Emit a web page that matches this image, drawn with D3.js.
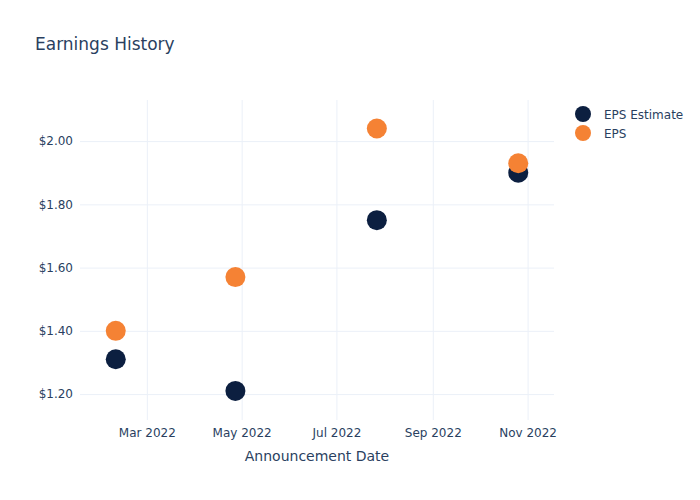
<!DOCTYPE html>
<html><head><meta charset="utf-8">
<script src="https://cdn.jsdelivr.net/npm/d3@7"></script>
<style>body{margin:0;background:#fff}text{font-family:"DejaVu Sans",sans-serif}</style>
</head><body>
<svg id="c" width="700" height="500"></svg>
<script>
const dates = ["2022-02-09","2022-04-27","2022-07-27","2022-10-26"];
const epsEstimate = [1.31, 1.21, 1.75, 1.90];
const eps = [1.40, 1.57, 2.04, 1.93];
const yTicks = [1.2, 1.4, 1.6, 1.8, 2.0];
const xTicks = ["2022-03-01","2022-05-01","2022-07-01","2022-09-01","2022-11-01"];
const seriesNames = ["EPS Estimate", "EPS"];
const colors = ["#0c1f40", "#f58234"];

const parse = d3.utcParse("%Y-%m-%d");
const svg = d3.select("#c");
const L = 80, R = 554, T = 100, B = 420;
const x = d3.scaleUtc().domain([parse("2022-01-17"), parse("2022-11-18")]).range([L, R]);
const y = d3.scaleLinear().domain([1.118, 2.13]).range([B, T]);
const txt = "#2a3f5f", grid = "#ebf0f8";
const ff = '"DejaVu Sans",sans-serif';

svg.append("text").attr("x", 35).attr("y", 50).attr("font-size", 17).attr("fill", txt).text("Earnings History");

const xa = svg.append("g").attr("transform", `translate(0,${B})`)
  .call(d3.axisBottom(x).tickValues(xTicks.map(parse)).tickFormat(d3.utcFormat("%b %Y")).tickSize(-(B - T)).tickPadding(8));
xa.select(".domain").remove();
xa.selectAll("line").attr("stroke", grid);
xa.selectAll("text").attr("fill", txt).attr("font-size", 12).attr("font-family", ff);

const ya = svg.append("g").attr("transform", `translate(${L},0)`)
  .call(d3.axisLeft(y).tickValues(yTicks).tickFormat(d => "$" + d3.format(".2f")(d)).tickSize(-(R - L)).tickPadding(7));
ya.select(".domain").remove();
ya.selectAll("line").attr("stroke", grid);
ya.selectAll("text").attr("fill", txt).attr("font-size", 12).attr("font-family", ff);

svg.append("text").attr("x", (L + R) / 2).attr("y", 461).attr("text-anchor", "middle")
  .attr("font-size", 14).attr("fill", txt).text("Announcement Date");

[epsEstimate, eps].forEach((vals, si) => {
  svg.append("g").selectAll("circle").data(vals).join("circle")
    .attr("cx", (d, i) => x(parse(dates[i]))).attr("cy", d => y(d))
    .attr("r", 10).attr("fill", colors[si]);
});

const lg = svg.append("g");
seriesNames.forEach((n, i) => {
  lg.append("circle").attr("cx", 583).attr("cy", 114 + i * 19).attr("r", 8).attr("fill", colors[i]);
  lg.append("text").attr("x", 604).attr("y", 118.5 + i * 19).attr("font-size", 12).attr("fill", txt).text(n);
});
</script>
</body></html>
